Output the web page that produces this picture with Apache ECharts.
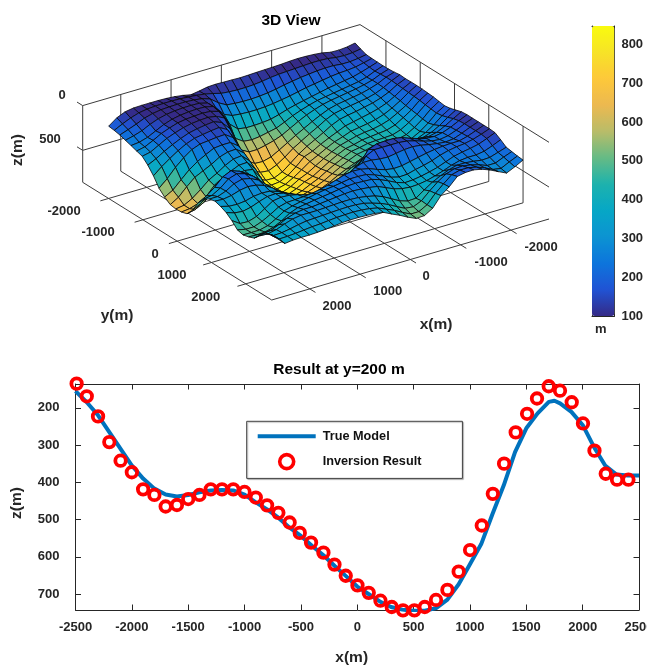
<!DOCTYPE html>
<html><head><meta charset="utf-8">
<style>html,body{margin:0;padding:0;background:#fff}#c{width:647px;height:668px}</style>
<script src="https://cdn.jsdelivr.net/npm/echarts@6/dist/echarts.min.js"></script>
</head><body><div id="c"></div>
<script>
// ---------- data ----------
const surfaceX = [-2450,-2287,-2123,-1960,-1797,-1633,-1470,-1307,-1143,-980,-817,-653,-490,-327,-163,0,163,327,490,653,817,980,1143,1307,1470,1633,1797,1960,2123,2287,2450];
const surfaceY = surfaceX.slice();
const surfaceZ = [
[82,100,108,105,85,75,70,68,72,78,82,85,88,92,95,92,90,87,92,110,124,105,92,85,82,82,82,85,100,140,207],
[110,125,130,125,110,105,105,110,115,120,125,135,150,160,165,165,160,150,125,105,92,85,78,75,75,78,85,100,130,170,215],
[134,150,160,160,150,150,155,165,175,190,205,225,240,250,255,255,250,240,190,120,90,78,72,72,75,80,95,120,160,195,228],
[138,160,180,190,195,205,220,235,250,270,290,305,320,330,335,335,330,320,280,180,100,76,72,74,80,92,115,150,195,225,248],
[140,170,200,225,240,255,270,290,310,330,350,375,405,430,440,445,445,430,350,200,100,78,75,80,90,108,140,185,230,258,268],
[142,175,215,240,255,270,285,300,315,340,370,405,450,490,510,530,540,530,470,250,115,88,82,88,95,110,140,175,225,270,290],
[140,170,210,235,255,270,285,300,320,350,385,430,480,530,565,590,610,610,560,370,150,105,90,95,105,125,155,190,240,290,310],
[135,165,210,240,265,280,295,310,335,375,420,470,520,575,630,680,705,700,640,470,230,135,100,110,125,145,180,222,270,325,370],
[125,165,215,255,280,295,310,325,345,385,440,490,545,600,670,730,770,760,710,560,320,175,125,135,150,165,200,250,310,375,450],
[130,170,225,265,295,315,335,350,370,410,465,515,565,625,700,770,812,810,770,650,410,225,165,170,180,190,225,290,370,470,550],
[128,175,235,285,320,345,365,385,405,445,485,530,580,615,700,770,815,825,800,700,490,280,215,215,225,270,320,385,470,560,610],
[128,180,245,300,345,375,395,410,425,460,490,535,585,630,695,755,805,830,820,735,535,320,250,255,285,340,385,430,510,600,655],
[130,185,260,315,365,395,415,425,440,465,490,535,585,640,695,735,790,825,825,760,580,370,285,295,340,400,450,530,600,650,665],
[135,190,270,330,385,415,425,435,445,470,488,530,580,635,690,725,775,810,815,770,620,420,320,325,365,410,470,570,620,650,660],
[140,200,280,345,400,430,435,438,445,465,480,525,570,620,675,715,760,790,795,765,650,480,360,345,360,375,420,500,570,620,640],
[150,208,293,362,415,438,440,436,436,458,475,515,560,610,660,700,735,760,772,755,690,555,425,360,310,270,280,350,440,510,560],
[160,215,300,367,417,437,432,422,421,435,473,510,548,590,640,680,712,737,745,742,715,610,495,395,275,222,188,230,320,390,440],
[150,205,280,340,380,395,385,370,360,370,400,440,490,540,600,650,690,720,730,730,700,590,470,370,265,210,185,215,290,345,360],
[130,185,250,300,330,335,320,305,290,295,320,360,420,485,550,610,660,695,710,710,675,560,440,350,270,225,205,230,285,320,320],
[110,160,215,260,280,280,265,250,230,225,240,270,330,410,490,560,620,665,685,680,640,525,415,345,290,260,250,265,295,310,305],
[104,145,190,225,240,235,215,180,145,130,130,135,170,290,410,510,575,625,640,620,565,465,390,345,315,310,320,345,355,350,325],
[105,140,185,220,235,225,200,170,145,135,135,135,135,180,320,440,520,570,585,560,505,420,360,325,305,310,340,375,395,385,355],
[105,140,180,215,225,215,200,180,170,175,190,205,200,185,185,215,270,380,430,430,400,360,330,310,305,320,380,440,470,465,405],
[105,140,175,200,200,205,215,230,250,270,290,295,280,250,215,195,190,205,235,265,290,305,315,320,325,350,405,455,490,490,470],
[105,140,170,190,200,215,240,275,300,320,345,350,325,285,245,215,210,210,225,240,250,265,285,305,325,355,415,465,487,488,487],
[110,150,185,205,220,240,275,310,335,355,370,375,345,300,260,230,225,220,225,235,250,262,275,290,305,340,400,445,470,475,470],
[150,190,225,240,240,250,275,310,340,365,380,385,375,350,310,270,255,245,240,245,255,265,275,285,285,300,330,375,415,425,445],
[195,225,255,260,245,235,235,260,300,345,405,470,475,445,395,345,310,290,275,270,270,275,280,285,285,285,300,330,365,385,380],
[205,240,280,280,245,220,205,210,240,300,375,460,500,490,445,395,355,325,300,290,288,290,295,300,305,310,325,345,360,365,310],
[215,255,300,285,240,205,185,185,210,285,365,465,515,515,470,420,380,340,320,310,305,308,312,320,330,335,345,355,362,365,295],
[221,270,313,270,225,190,170,172,190,280,350,465,520,525,485,436,395,350,335,330,326,326,330,340,350,358,362,362,365,376,290]
];
const trueX = [-2500,-2400,-2300,-2200,-2100,-2000,-1900,-1800,-1700,-1600,-1500,-1400,-1300,-1200,-1100,-1000,-900,-800,-700,-600,-500,-400,-300,-200,-100,0,100,200,300,400,500,600,700,800,900,1000,1100,1200,1300,1400,1500,1600,1700,1750,1800,1900,2000,2100,2200,2300,2400,2500];
const trueZ = [155,185,220,265,310,355,390,417,433,438,434,427,422,421,422,433,454,473,495,522,544,571,596,625,652,680,700,720,735,742,745,745,738,715,674,620,566,485,408,319,255,215,184,181,188,211,246,305,355,379,382,382];
const invX = [-2490,-2400,-2300,-2200,-2100,-2000,-1900,-1800,-1700,-1600,-1500,-1400,-1300,-1200,-1100,-1000,-900,-800,-700,-600,-510,-410,-300,-202,-102,2,102,206,306,406,507,599,699,800,900,1001,1105,1203,1303,1406,1507,1595,1699,1799,1903,2003,2105,2205,2305,2406];
const invZ = [135,169,223,292,342,373,419,434,465,461,445,434,419,419,419,426,441,462,482,508,536,562,589,621,651,677,697,718,735,744,744,735,716,689,640,582,516,431,350,266,216,175,142,154,185,242,315,377,393,393];
const bottomZTicks = [200,300,400,500,600,700];
const colorbarTicks = [100,200,300,400,500,600,700,800];
const tick3dX = [-2000,-1000,0,1000,2000];
const tick3dY = [-2000,-1000,0,1000,2000];
const tick3dZ = [0,500];
const parula = ['#352a87','#2053d4','#0d75dc','#0c93d2','#06a7c6','#1db2ad','#65bb85','#b9bc69','#ecb950','#fdc83a','#f7e327','#f9fb0e'];

// ---------- 3D view (fixed MATLAB-like camera) ----------
const lim = 2757, zFloor = 857;
const view = {ux:277.3, uy:-81, vx:189, vy:117.7, wy:76.7};
function project(x, y, z) {
  const u = (lim - x) / (2 * lim), v = (y + lim) / (2 * lim), w = z / zFloor;
  return [view.ux * u + view.vx * v, view.uy * u + view.vy * v + view.wy * w];
}
const cells = [];
for (let s = 0; s <= 58; s++) for (let j = 0; j < 30; j++) {
  const i = s - j;
  if (i < 0 || i >= 30) continue;
  const z = (surfaceZ[j][i] + surfaceZ[j][i + 1] + surfaceZ[j + 1][i] + surfaceZ[j + 1][i + 1]) / 4;
  cells.push([i, j, z]);
}
function seg(a, b) { return [...a, ...b]; }
const tickLen = 0.03 * 2 * lim;
const boxLines = [
  seg([lim,-lim,0],[lim,-lim,zFloor]),
  seg([lim,lim,zFloor],[-lim,lim,zFloor]),
  seg([lim,-lim,zFloor],[lim,lim,zFloor])
];
tick3dZ.forEach(z => {
  boxLines.push(seg([lim,-lim,z],[-lim,-lim,z]), seg([-lim,-lim,z],[-lim,lim,z]), seg([lim,-lim,z],[lim,-lim-tickLen,z]));
});
tick3dX.forEach(x => {
  boxLines.push(seg([x,-lim,0],[x,-lim,zFloor]), seg([x,-lim,zFloor],[x,lim+tickLen,zFloor]));
});
tick3dY.forEach(y => {
  boxLines.push(seg([-lim,y,0],[-lim,y,zFloor]), seg([-lim,y,zFloor],[lim+tickLen,y,zFloor]));
});

const fontFamily = '"Liberation Sans", Arial, sans-serif';
const dark = '#262626';
function label(text, x, y, size, rotation) {
  return {type:'text', x, y, rotation: rotation || 0, silent:true, z:20,
    style:{text, fill:dark, font:`bold ${size}px ${fontFamily}`, textAlign:'center', textVerticalAlign:'middle'}};
}
const plainNumber = v => String(v);
const tickFont = {color:dark, fontWeight:'bold', fontSize:13, fontFamily, formatter:plainNumber};
const axLine = {show:true, onZero:false, lineStyle:{color:dark, width:1}};

const option = {
  animation:false, backgroundColor:'#fff',
  title:[
    {text:'3D View', left:286, top:15.5, textAlign:'center', textVerticalAlign:'middle', textStyle:{color:'#000',fontWeight:'bold',fontSize:15.5,fontFamily}},
    {text:'Result at y=200 m', left:334, top:365, textAlign:'center', textVerticalAlign:'middle', textStyle:{color:'#000',fontWeight:'bold',fontSize:15.5,fontFamily}}
  ],
  grid:[
    {left:82.7, top:24.6, width:466.3, height:275.4, outerBoundsMode:'none'},
    {left:592, top:26, width:22.4, height:290, outerBoundsMode:'none'},
    {left:75.5, top:384, width:563.5, height:226, outerBoundsMode:'none'}
  ],
  xAxis:[
    {gridIndex:0, type:'value', min:0, max:466.3, show:false},
    {gridIndex:1, type:'value', min:0, max:1, position:'bottom', axisLine:axLine, axisTick:{show:false}, axisLabel:{show:false}, splitLine:{show:false}},
    {gridIndex:1, type:'value', min:0, max:1, position:'top', axisLine:axLine, axisTick:{show:false}, axisLabel:{show:false}, splitLine:{show:false}},
    {gridIndex:2, type:'value', min:-2500, max:2500, position:'bottom', interval:500,
      axisLine:axLine, axisTick:{inside:true,length:5.5,lineStyle:{color:dark}}, axisLabel:{...tickFont, margin:11, showMaxLabel:true, showMinLabel:true, hideOverlap:false},
      splitLine:{show:false}},
    {gridIndex:2, type:'value', min:-2500, max:2500, position:'top', interval:500,
      axisLine:axLine, axisTick:{inside:true,length:5.5,lineStyle:{color:dark}}, axisLabel:{show:false}, splitLine:{show:false}}
  ],
  yAxis:[
    {gridIndex:0, type:'value', min:-81, max:194.4, inverse:true, show:false},
    {gridIndex:1, type:'value', min:100, max:848, position:'left', axisLine:axLine, axisTick:{show:false}, axisLabel:{show:false}, splitLine:{show:false}},
    {gridIndex:1, type:'value', min:100, max:848, position:'right', axisLine:axLine,
      axisTick:{inside:true,length:3,lineStyle:{color:dark},customValues:colorbarTicks},
      axisLabel:{...tickFont, margin:7, customValues:colorbarTicks}, splitLine:{show:false}},
    {gridIndex:2, type:'value', min:136, max:743, inverse:true, position:'left', axisLine:axLine,
      axisTick:{inside:true,length:5.5,lineStyle:{color:dark},customValues:bottomZTicks},
      axisLabel:{...tickFont, margin:16, customValues:bottomZTicks}, splitLine:{show:false}},
    {gridIndex:2, type:'value', min:136, max:743, inverse:true, position:'right', axisLine:axLine,
      axisTick:{inside:true,length:5.5,lineStyle:{color:dark},customValues:bottomZTicks},
      axisLabel:{show:false}, splitLine:{show:false}}
  ],
  visualMap:[{
    type:'continuous', seriesIndex:1, dimension:2, min:100, max:848, calculable:false, hoverLink:false,
    left:592, top:26, itemWidth:22.4, itemHeight:290, orient:'vertical', text:null, padding:0,
    inRange:{color:parula}, z:1
  }],
  legend:{
    data:[
      {name:'True Model', icon:'path://M0 0L0 0M58 14L58 14M0 5H58V9H0Z', itemStyle:{color:'#0072bd', borderWidth:0}, lineStyle:{width:0, opacity:0}},
      {name:'Inversion Result', icon:'circle', itemStyle:{color:'rgba(0,0,0,0)', borderColor:'#ff0000', borderWidth:3.6}}
    ],
    left:246.7, top:421.3, orient:'vertical', selectedMode:false,
    itemWidth:58, itemHeight:14, itemGap:9.5, padding:[8,41,8,11],
    backgroundColor:'#fff', borderColor:'#404040', borderWidth:1,
    shadowColor:'rgba(0,0,0,0.25)', shadowBlur:1, shadowOffsetX:1, shadowOffsetY:1,
    textStyle:{color:'#111', fontWeight:'bold', fontSize:12.7, fontFamily, padding:[0,0,6,2]}
  },
  series:[
    {type:'custom', name:'box', xAxisIndex:0, yAxisIndex:0, z:1, silent:true, clip:false,
      data:boxLines, encode:{x:0,y:1},
      renderItem(params, api){
        const a = project(api.value(0),api.value(1),api.value(2));
        const b = project(api.value(3),api.value(4),api.value(5));
        const p = api.coord(a), q = api.coord(b);
        return {type:'line', shape:{x1:p[0],y1:p[1],x2:q[0],y2:q[1]}, style:{stroke:'#3c3c3c',lineWidth:1,fill:null}};
      }},
    {type:'custom', name:'surface', xAxisIndex:0, yAxisIndex:0, z:2, silent:true, clip:false, progressive:0,
      data:cells, encode:{x:0,y:1},
      renderItem(params, api){
        const i = api.value(0), j = api.value(1);
        const pts = [[i,j],[i+1,j],[i+1,j+1],[i,j+1]].map(([a,b]) => api.coord(project(surfaceX[a],surfaceY[b],surfaceZ[b][a])));
        return {type:'polygon', shape:{points:pts}, style:{fill:api.visual('color'), stroke:'rgba(8,8,8,0.9)', lineWidth:0.9}};
      }},
    {type:'line', name:'True Model', xAxisIndex:3, yAxisIndex:3, showSymbol:false, symbol:'none', z:3,
      data:trueX.map((x,k)=>[x,trueZ[k]]), lineStyle:{color:'#0072bd',width:4}, itemStyle:{color:'#0072bd'}},
    {type:'scatter', name:'Inversion Result', xAxisIndex:3, yAxisIndex:3, clip:false, z:4, symbol:'circle', symbolSize:10.5,
      data:invX.map((x,k)=>[x,invZ[k]]), itemStyle:{color:'rgba(0,0,0,0)',borderColor:'#ff0000',borderWidth:3.8,opacity:1}}
  ],
  graphic:[
    label('0',62,95,13), label('500',50,139,13), label('z(m)',18,150,15.5,Math.PI/2),
    label('-2000',64,211,13), label('-1000',98,232,13), label('0',155,254,13), label('1000',172,275,13), label('2000',205.7,297,13),
    label('-2000',541,247,13), label('-1000',491,262,13), label('0',426,276,13), label('1000',387.7,291,13), label('2000',337,306,13),
    label('y(m)',117,316,15.5), label('x(m)',436,325,15.5), label('m',600.7,329,13),
    label('z(m)',17,503,15.5,Math.PI/2), label('x(m)',351.7,658,15.5)
  ]
};
const chart = echarts.init(document.getElementById('c'), null, {renderer:'canvas', width:647, height:668});
chart.setOption(option);
</script></body></html>
